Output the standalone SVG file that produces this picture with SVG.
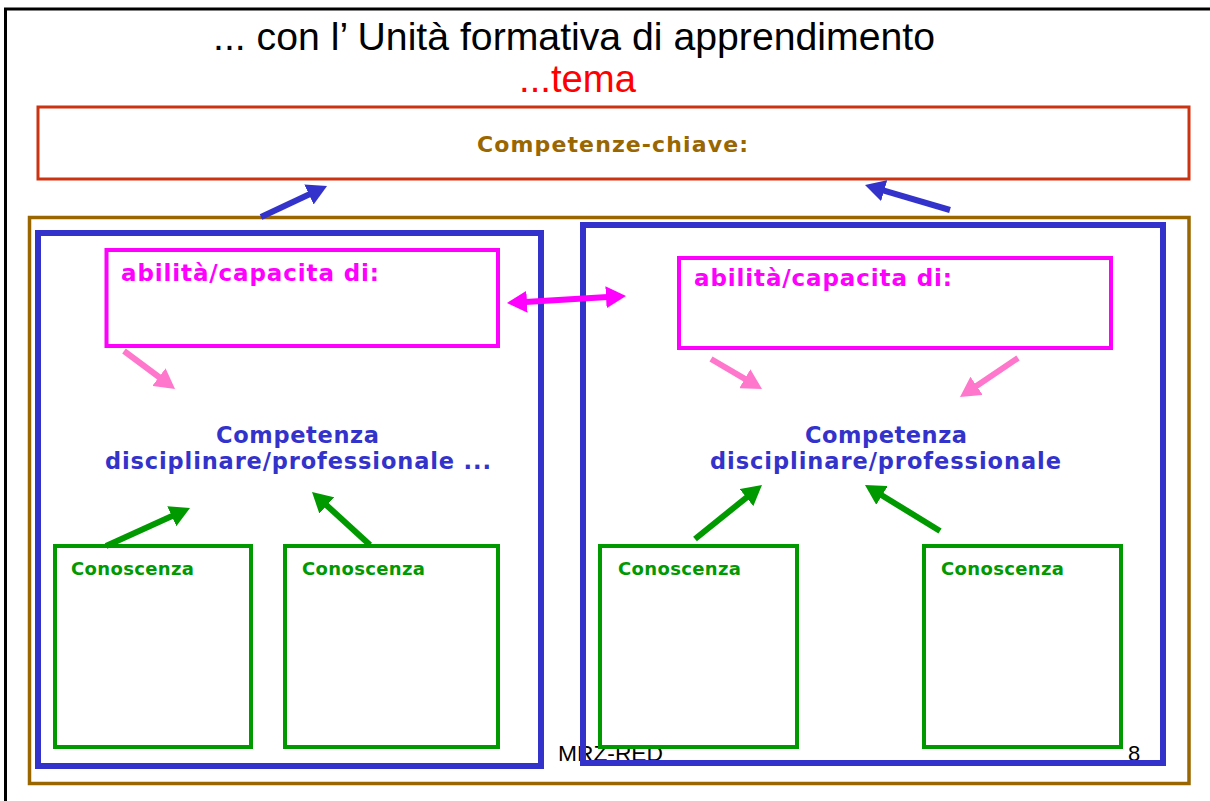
<svg xmlns="http://www.w3.org/2000/svg" width="1210" height="801" viewBox="0 0 1210 801">
<defs>
<style>
.box{fill:none}
.bold{font-family:"DejaVu Sans","Verdana",sans-serif;font-weight:bold}
.reg{font-family:"Liberation Sans","Arial",sans-serif}
.sh{fill:none;stroke-width:6;stroke-linecap:butt}
</style>
<marker id="hb" markerUnits="userSpaceOnUse" viewBox="0 0 20 22" markerWidth="20" markerHeight="22" refX="10" refY="11" orient="auto-start-reverse"><path d="M0,0 L20,11 L0,22 z" fill="#3333CC"/></marker>
<marker id="hm" markerUnits="userSpaceOnUse" viewBox="0 0 20 22" markerWidth="20" markerHeight="22" refX="10" refY="11" orient="auto-start-reverse"><path d="M0,0 L20,11 L0,22 z" fill="#FF00FF"/></marker>
<marker id="hp" markerUnits="userSpaceOnUse" viewBox="0 0 20 22" markerWidth="20" markerHeight="22" refX="10" refY="11" orient="auto-start-reverse"><path d="M0,0 L20,11 L0,22 z" fill="#FF77CC"/></marker>
<marker id="hg" markerUnits="userSpaceOnUse" viewBox="0 0 20 22" markerWidth="20" markerHeight="22" refX="10" refY="11" orient="auto-start-reverse"><path d="M0,0 L20,11 L0,22 z" fill="#009900"/></marker>
</defs>
<rect x="0" y="0" width="1210" height="801" fill="#FFFFFF"/>
<g id="frame">
<line x1="4" y1="9" x2="1210" y2="9" stroke="#000" stroke-width="3"/>
<line x1="5.5" y1="8" x2="5.5" y2="801" stroke="#000" stroke-width="3"/>
</g>
<g id="title">
<text class="reg" x="213" y="50" font-size="38" textLength="722" lengthAdjust="spacingAndGlyphs" fill="#000">... con l’ Unità formativa di apprendimento</text>
<text class="reg" x="519" y="92" font-size="38" textLength="117" lengthAdjust="spacingAndGlyphs" fill="#FF0000">...tema</text>
</g>
<g id="competenze-chiave">
<rect class="box" x="38" y="107" width="1151" height="72" stroke="#CC3311" stroke-width="3"/>
<text class="bold" x="477" y="152" font-size="22" textLength="271" lengthAdjust="spacing" fill="#996600">Competenze-chiave:</text>
</g>
<g id="footer">
<text class="reg" x="558" y="761" font-size="22" textLength="105" lengthAdjust="spacingAndGlyphs" fill="#000">MRZ-RED</text>
<text class="reg" x="1128" y="761" font-size="22" fill="#000">8</text>
</g>
<g id="uda-frame">
<rect class="box" x="29.5" y="217.5" width="1159.5" height="566" stroke="#996600" stroke-width="3.5"/>
</g>
<g id="left-unit">
<rect class="box" x="38" y="233" width="503" height="533" stroke="#3333CC" stroke-width="6"/>
</g>
<g id="right-unit">
<rect class="box" x="583" y="225" width="580" height="538" stroke="#3333CC" stroke-width="6"/>
</g>
<g id="abilita-left">
<rect class="box" x="106.5" y="250" width="391.5" height="96" stroke="#FF00FF" stroke-width="4"/>
<text class="bold" x="121" y="281" font-size="23" textLength="258" lengthAdjust="spacing" fill="#FF00FF">abilità/capacita di:</text>
</g>
<g id="abilita-right">
<rect class="box" x="679" y="258" width="432" height="90" stroke="#FF00FF" stroke-width="4"/>
<text class="bold" x="694" y="286" font-size="23" textLength="258" lengthAdjust="spacing" fill="#FF00FF">abilità/capacita di:</text>
</g>
<g id="competenza-left">
<text class="bold" x="216" y="443" font-size="22.5" textLength="163" lengthAdjust="spacing" fill="#3333CC">Competenza</text>
<text class="bold" x="105" y="469" font-size="22.5" textLength="386" lengthAdjust="spacing" fill="#3333CC">disciplinare/professionale ...</text>
</g>
<g id="competenza-right">
<text class="bold" x="805" y="443" font-size="22.5" textLength="162" lengthAdjust="spacing" fill="#3333CC">Competenza</text>
<text class="bold" x="710" y="469" font-size="22.5" textLength="351" lengthAdjust="spacing" fill="#3333CC">disciplinare/professionale</text>
</g>
<g id="conoscenza-1">
<rect class="box" x="55" y="546" width="196" height="201" stroke="#009900" stroke-width="4"/>
<text class="bold" x="71" y="575" font-size="18" textLength="123" lengthAdjust="spacing" fill="#009900">Conoscenza</text>
</g>
<g id="conoscenza-2">
<rect class="box" x="285" y="546" width="213" height="201" stroke="#009900" stroke-width="4"/>
<text class="bold" x="302" y="575" font-size="18" textLength="123" lengthAdjust="spacing" fill="#009900">Conoscenza</text>
</g>
<g id="conoscenza-3">
<rect class="box" x="600" y="546" width="197" height="201" stroke="#009900" stroke-width="4"/>
<text class="bold" x="618" y="575" font-size="18" textLength="123" lengthAdjust="spacing" fill="#009900">Conoscenza</text>
</g>
<g id="conoscenza-4">
<rect class="box" x="924" y="546" width="197" height="201" stroke="#009900" stroke-width="4"/>
<text class="bold" x="941" y="575" font-size="18" textLength="123" lengthAdjust="spacing" fill="#009900">Conoscenza</text>
</g>
<g id="connectors">
<line class="sh" x1="261" y1="217" x2="318" y2="190.3" stroke="#3333CC" marker-end="url(#hb)"/>
<line class="sh" x1="950" y1="210" x2="874.6" y2="187.8" stroke="#3333CC" marker-end="url(#hb)"/>
<line class="sh" x1="517" y1="302.4" x2="616" y2="296.6" stroke="#FF00FF" marker-start="url(#hm)" marker-end="url(#hm)"/>
<line class="sh" x1="124" y1="351" x2="167" y2="383" stroke="#FF77CC" marker-end="url(#hp)"/>
<line class="sh" x1="711" y1="359" x2="753.4" y2="383.9" stroke="#FF77CC" marker-end="url(#hp)"/>
<line class="sh" x1="1018" y1="358" x2="968.3" y2="391.4" stroke="#FF77CC" marker-end="url(#hp)"/>
<line class="sh" x1="106" y1="546" x2="180.9" y2="512.1" stroke="#009900" marker-end="url(#hg)"/>
<line class="sh" x1="370" y1="545" x2="319.4" y2="498.7" stroke="#009900" marker-end="url(#hg)"/>
<line class="sh" x1="695" y1="539" x2="754.2" y2="491.3" stroke="#009900" marker-end="url(#hg)"/>
<line class="sh" x1="940" y1="531" x2="873.5" y2="490.2" stroke="#009900" marker-end="url(#hg)"/>
</g>
</svg>
